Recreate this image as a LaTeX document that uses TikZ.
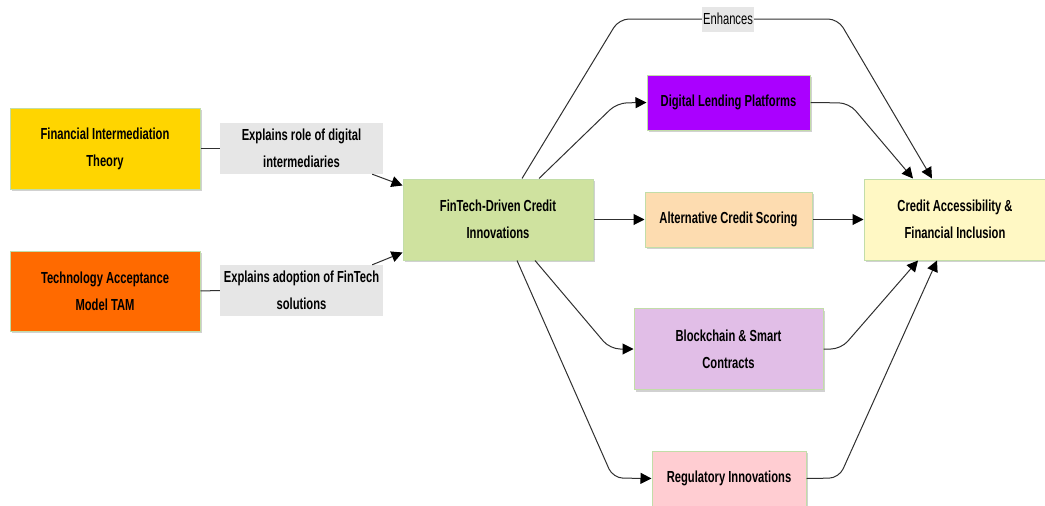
\documentclass[tikz,border=0pt]{standalone}
\usepackage{fontspec}
\setmainfont{Liberation Sans}[FakeStretch=0.7]
\usetikzlibrary{arrows.meta,shadows}
\definecolor{cFit}{HTML}{FFD500}
\definecolor{cTam}{HTML}{FF6A00}
\definecolor{cLab}{HTML}{E6E6E6}
\definecolor{cFin}{HTML}{CFE29F}
\definecolor{cDlp}{HTML}{AA00FF}
\definecolor{cAcs}{HTML}{FDDCB0}
\definecolor{cBc}{HTML}{E1BEE7}
\definecolor{cReg}{HTML}{FFCDD2}
\definecolor{cCai}{HTML}{FFF8C4}
\definecolor{cBord}{HTML}{C2DDA8}
\definecolor{cLine}{HTML}{303030}
\tikzset{
  box/.style={draw=cBord, line width=1pt, align=center, inner sep=0pt,
    font=\fontsize{16}{27}\selectfont\bfseries,
    drop shadow={shadow xshift=1.5pt, shadow yshift=-2pt, opacity=0.18, fill=black}},
  labbox/.style={fill=cLab, draw=none, align=center, inner sep=0pt,
    font=\fontsize{16}{27}\selectfont\bfseries,
    minimum width=163pt, minimum height=51pt},
  conn/.style={draw=cLine, line width=1pt, rounded corners=10pt},
  arr/.style={conn, -{Triangle[length=11pt,width=11pt,fill=black,color=black]}},
}
\begin{document}
\begin{tikzpicture}[x=1pt,y=-1pt]
\useasboundingbox (0,0) rectangle (1045,506);
% left theory boxes
\node[box, fill=cFit, minimum width=190pt, minimum height=81pt] (fit) at (105,148.5) {Financial Intermediation\\Theory};
\node[box, fill=cTam, minimum width=190pt, minimum height=80pt] (tam) at (105,291) {Technology Acceptance\\Model TAM};
% explanation labels
\node[labbox] (lab1) at (301.5,148.5) {Explains role of digital\\intermediaries};
\node[labbox] (lab2) at (301.5,290.5) {Explains adoption of FinTech\\solutions};
% central node
\node[box, fill=cFin, minimum width=190pt, minimum height=81pt] (fin) at (498,219.5) {FinTech-Driven Credit\\Innovations};
% innovations
\node[box, fill=cDlp, minimum width=163pt, minimum height=55pt] (dlp) at (728.5,102.5) {Digital Lending Platforms};
\node[box, fill=cAcs, minimum width=167pt, minimum height=55pt] (acs) at (728.5,219.5) {Alternative Credit Scoring};
\node[box, fill=cBc, minimum width=189pt, minimum height=81pt] (bc) at (728.5,349) {Blockchain \& Smart\\Contracts};
\node[box, fill=cReg, minimum width=154pt, minimum height=55pt] (reg) at (729,478.5) {Regulatory Innovations};
% outcome
\node[box, fill=cCai, minimum width=182pt, minimum height=81pt] (cai) at (955,219.5) {Credit Accessibility \&\\Financial Inclusion};

% connectors left
\draw[conn] (fit.east) -- (lab1.west);
\draw[conn] (tam.east) -- (lab2.west);
\draw[arr] ([xshift=-11pt]lab1.south east) -- ([yshift=-7pt]fin.north west);
\draw[arr] ([xshift=-11pt]lab2.north east) -- ([yshift=8pt]fin.south west);

% central to innovations
\draw[arr] ([xshift=41pt]fin.north) -- (617,103) -- (dlp.west);
\draw[arr] (fin.east) -- (acs.west);
\draw[arr] ([xshift=37pt]fin.south) -- (610,349) -- (bc.west);
\draw[arr] ([xshift=19pt]fin.south) -- (613,478) -- (reg.west);

% enhances
\coordinate (e1) at (619,19);
\coordinate (e2) at (838,19);
\draw[arr] ([xshift=24pt]fin.north) -- (e1) -- (e2) -- ([xshift=-23pt]cai.north);
\node[fill=cLab, inner sep=1pt, minimum height=25pt, font=\fontsize{16}{18}\selectfont] (enh) at (728,19) {Enhances};

% innovations to outcome
\draw[arr] (dlp.east) -- (849,103) -- ([xshift=-42pt]cai.north);
\draw[arr] (acs.east) -- (cai.west);
\draw[arr] (bc.east) -- (841,349) -- ([xshift=-37pt]cai.south);
\draw[arr] (reg.east) -- (839,478) -- ([xshift=-18pt]cai.south);
\end{tikzpicture}
\end{document}
